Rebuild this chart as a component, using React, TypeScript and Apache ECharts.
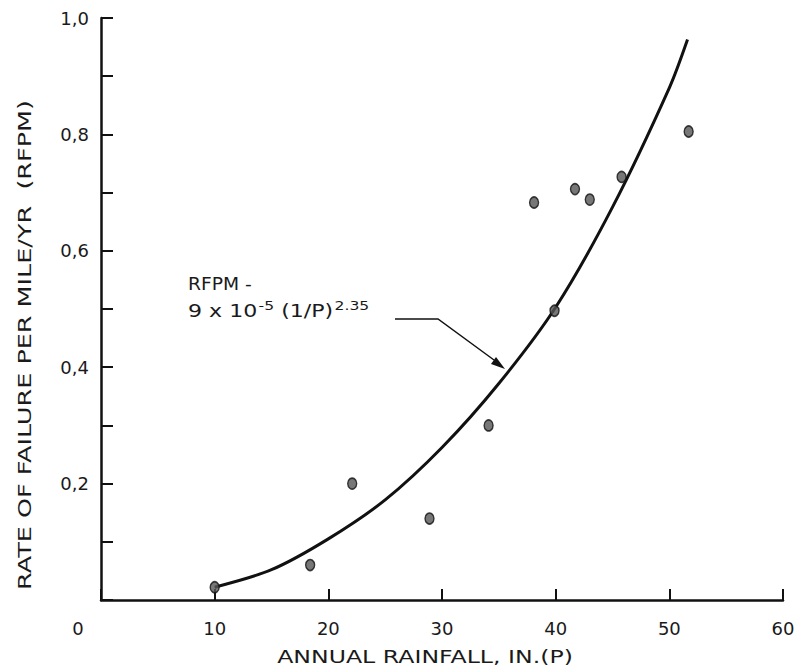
import React, { useEffect, useRef } from "react";
import * as echarts from "echarts";

// Observed data points (annual rainfall P, failure rate RFPM)
const rainfall = [10, 18.4, 22.1, 28.9, 34.1, 38.1, 39.9, 41.7, 43.0, 45.8, 51.7];
const rfpm = [0.022, 0.06, 0.2, 0.14, 0.30, 0.683, 0.497, 0.706, 0.688, 0.727, 0.805];

// Fitted curve
const curveX = [10, 15, 20, 25, 30, 35, 40, 45, 50, 51.6];
const curveY = [0.022, 0.052, 0.105, 0.172, 0.262, 0.372, 0.503, 0.675, 0.88, 0.963];

const xTicks = [0, 10, 20, 30, 40, 50, 60];
const yLabelled = [0.2, 0.4, 0.6, 0.8, 1.0];

const xTitle = "ANNUAL RAINFALL, IN.(P)";
const yTitle = "RATE OF FAILURE PER MILE/YR  (RFPM)";

const FONT = "DejaVu Sans";
const INK = "#1a1a1a";

function textWidth(text: string, font: string): number {
  const c = document.createElement("canvas");
  const ctx = c.getContext("2d");
  if (!ctx) return text.length * 10;
  ctx.font = font;
  return ctx.measureText(text).width;
}

export default function App() {
  const ref = useRef<HTMLDivElement>(null);
  useEffect(() => {
    document.body.style.margin = "0";
    if (!ref.current) return;
    const chart = echarts.init(ref.current, null, { renderer: "svg" });
    const titleFont = `18px ${FONT}`;
    const xScale = 296 / textWidth(xTitle, titleFont);
    const yScale = 490 / textWidth(yTitle, titleFont);
    chart.setOption({
      animation: false,
      backgroundColor: "#ffffff",
      grid: { left: 101, right: 16, top: 18, bottom: 68 },
      xAxis: {
        type: "value",
        min: xTicks[0],
        max: xTicks[xTicks.length - 1],
        interval: 10,
        splitLine: { show: false },
        axisLine: { show: true, lineStyle: { color: "#111", width: 2.5 } },
        axisTick: { show: true, inside: true, length: 11, lineStyle: { color: "#111", width: 2 } },
        axisLabel: {
          margin: 19,
          color: INK,
          fontFamily: FONT,
          fontSize: 18,
          formatter: (v: number) => (v === 0 ? "" : String(v)),
        },
      },
      yAxis: {
        type: "value",
        min: 0,
        max: 1,
        interval: 0.1,
        splitLine: { show: false },
        axisLine: { show: true, lineStyle: { color: "#111", width: 2.5 } },
        axisTick: { show: true, inside: true, length: 12, lineStyle: { color: "#111", width: 2 } },
        axisLabel: {
          margin: 12,
          color: INK,
          fontFamily: FONT,
          fontSize: 18,
          formatter: (v: number) => {
            const r = Math.round(v * 10) / 10;
            return yLabelled.some((t) => Math.abs(t - r) < 1e-6) ? r.toFixed(1).replace(".", ",") : "";
          },
        },
      },
      series: [
        {
          type: "line",
          data: curveX.map((x, i) => [x, curveY[i]]),
          smooth: 0.3,
          showSymbol: false,
          lineStyle: { color: "#111", width: 3 },
          z: 2,
        },
        {
          type: "scatter",
          data: rainfall.map((x, i) => [x, rfpm[i]]),
          symbol: "circle",
          symbolSize: [9, 11],
          itemStyle: { color: "#555", borderColor: "#111", borderWidth: 1.5 },
          z: 3,
        },
      ],
      graphic: [
        {
          type: "text",
          x: 78,
          y: 628,
          style: { text: "0", fill: INK, font: `18px ${FONT}`, align: "center", verticalAlign: "middle" },
        },
        {
          type: "text",
          x: 425,
          y: 657,
          scaleX: xScale,
          style: {
            text: xTitle,
            fill: INK,
            font: titleFont,
            align: "center",
            verticalAlign: "middle",
          },
        },
        {
          type: "text",
          x: 25,
          y: 345,
          rotation: Math.PI / 2,
          scaleX: yScale,
          style: {
            text: yTitle,
            fill: INK,
            font: titleFont,
            align: "center",
            verticalAlign: "middle",
          },
        },
        {
          type: "text",
          x: 188,
          y: 284,
          scaleX: 1.1,
          style: { text: "RFPM -", fill: INK, font: `17px ${FONT}`, verticalAlign: "middle" },
        },
        {
          type: "text",
          x: 188,
          y: 311,
          scaleX: 1.3,
          style: {
            text: "9 x 10{s|-5} (1/P){s|2.35}",
            fill: INK,
            font: `17px ${FONT}`,
            verticalAlign: "middle",
            rich: {
              s: { fontSize: 12, fontFamily: FONT, fill: INK, padding: [0, 0, 11, 1] },
            },
          },
        },
        {
          type: "polyline",
          shape: { points: [[395, 319], [438, 319], [494, 360]] },
          style: { stroke: "#111", lineWidth: 1.5, fill: null },
        },
        {
          type: "polygon",
          shape: { points: [[505, 369], [491, 364], [496, 357]] },
          style: { fill: "#111" },
        },
      ],
    });
    return () => chart.dispose();
  }, []);
  return <div ref={ref} style={{ width: 799, height: 668 }} />;
}
